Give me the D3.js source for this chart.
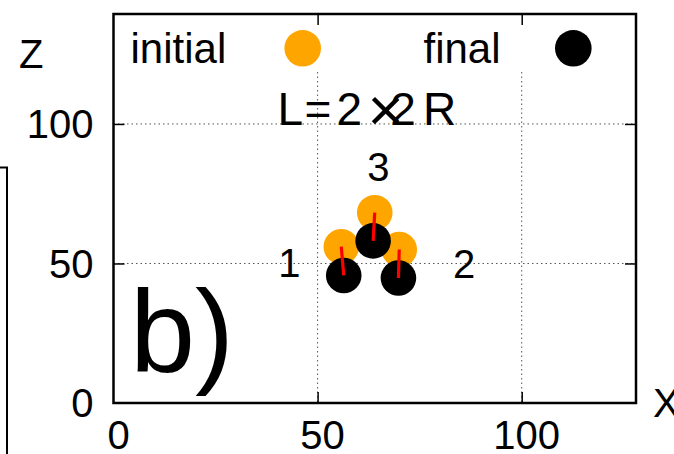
<!DOCTYPE html>
<html>
<head>
<meta charset="utf-8">
<script src="https://cdn.jsdelivr.net/npm/d3@7"></script>
<style>
  body { margin: 0; background: #fff; }
  svg { display: block; font-family: "Liberation Sans", Arial, sans-serif; }
  .grid line { stroke: #555; stroke-width: 1; stroke-dasharray: 1.5,3; }
</style>
</head>
<body>
<svg id="chart" width="674" height="454"></svg>
<script>
// particle positions (x, z), particles 1, 2, 3
var particles = ["1", "2", "3"];
var initialX = [55.8, 70.0, 64.0];
var initialZ = [56.0, 55.0, 68.2];
var finalX = [56.4, 69.8, 63.6];
var finalZ = [45.7, 44.8, 58.1];
// where the particle numbers sit
var labelX = [43.1, 85.9, 64.9];
var labelZ = [50.2, 50.0, 84.7];

var xTicks = [0, 50, 100];
var zTicks = [0, 50, 100];
var gridX = [50, 100];
var gridZ = [50, 100];

var svg = d3.select("#chart");
// plot box (note: "top" is taken by window.top, so use other names)
var boxL = 113.5, boxR = 636, boxT = 14, boxB = 403;

var x = d3.scaleLinear().domain([0, 128]).range([boxL, boxR]);
var z = d3.scaleLinear().domain([0, 139.4]).range([boxB, boxT]);

// piece of the neighbouring panel on the left
svg.append("path")
    .attr("d", "M0,167.5 H7 V454")
    .attr("fill", "none")
    .attr("stroke", "#000")
    .attr("stroke-width", 2);

// grid
var grid = svg.append("g").attr("class", "grid");
grid.selectAll(".gx").data(gridX).enter().append("line")
    .attr("x1", function(d) { return x(d); })
    .attr("x2", function(d) { return x(d); })
    .attr("y1", 72)
    .attr("y2", boxB);
grid.selectAll(".gz").data(gridZ).enter().append("line")
    .attr("x1", boxL)
    .attr("x2", boxR)
    .attr("y1", function(d) { return z(d); })
    .attr("y2", function(d) { return z(d); });

// inner ticks on all four sides
var xAxisB = d3.axisTop(x).tickValues([50, 100]).tickSize(11).tickFormat("");
var xAxisT = d3.axisBottom(x).tickValues([50, 100]).tickSize(11).tickFormat("");
var zAxisL = d3.axisRight(z).tickValues([50, 100]).tickSize(11).tickFormat("");
var zAxisR = d3.axisLeft(z).tickValues([50, 100]).tickSize(11).tickFormat("");
[[xAxisB, "translate(0," + boxB + ")"], [xAxisT, "translate(0," + boxT + ")"],
 [zAxisL, "translate(" + boxL + ",0)"], [zAxisR, "translate(" + boxR + ",0)"]].forEach(function(a) {
    var g = svg.append("g").attr("transform", a[1]).call(a[0]);
    g.select(".domain").remove();
    g.selectAll("line").attr("stroke", "#000").attr("stroke-width", 1.5);
});

// tick labels
svg.selectAll(".xlab").data(xTicks).enter().append("text")
    .attr("x", function(d) { return x(d) + 5; })
    .attr("y", 449)
    .attr("text-anchor", "middle")
    .attr("font-size", 40)
    .text(function(d) { return d; });
svg.selectAll(".zlab").data(zTicks).enter().append("text")
    .attr("x", 93.5)
    .attr("y", function(d) { return z(d) + 14.3; })
    .attr("text-anchor", "end")
    .attr("font-size", 40)
    .text(function(d) { return d; });

// axis titles
svg.append("text").attr("x", 19).attr("y", 68.3).attr("font-size", 40).text("Z");
svg.append("text").attr("x", 653).attr("y", 417).attr("font-size", 40).text("X");

// legend
svg.append("text").attr("x", 130.5).attr("y", 63.3).attr("font-size", 42).text("initial");
svg.append("circle").attr("cx", 302.7).attr("cy", 48.3).attr("r", 18.3).attr("fill", "#ffa500");
svg.append("text").attr("x", 423.5).attr("y", 63.3).attr("font-size", 42).text("final");
svg.append("circle").attr("cx", 573.3).attr("cy", 48.3).attr("r", 18.3).attr("fill", "#000");

// title L=2x2R (the times sign is drawn big, overlapping the second 2)
var title = svg.append("text").attr("y", 125).attr("font-size", 46);
title.append("tspan").attr("x", 277.5).text("L");
title.append("tspan").attr("x", 304.5).text("=");
title.append("tspan").attr("x", 336.5).text("2");
title.append("tspan").attr("x", 367.5).attr("dy", 6).attr("font-size", 62).text("\u00d7");
title.append("tspan").attr("x", 390.3).attr("dy", -6).text("2");
title.append("tspan").attr("x", 423).text("R");

// big panel label
svg.append("text").attr("x", 130).attr("y", 372).attr("font-size", 117).text("b)");

// particles
var idx = d3.range(particles.length);
svg.selectAll(".ini").data(idx).enter().append("circle")
    .attr("cx", function(i) { return x(initialX[i]); })
    .attr("cy", function(i) { return z(initialZ[i]); })
    .attr("r", 17.8)
    .attr("fill", "#ffa500");
svg.selectAll(".fin").data(idx).enter().append("circle")
    .attr("cx", function(i) { return x(finalX[i]); })
    .attr("cy", function(i) { return z(finalZ[i]); })
    .attr("r", 17.8)
    .attr("fill", "#000");
svg.selectAll(".traj").data(idx).enter().append("line")
    .attr("x1", function(i) { return x(initialX[i]); })
    .attr("y1", function(i) { return z(initialZ[i]); })
    .attr("x2", function(i) { return x(finalX[i]); })
    .attr("y2", function(i) { return z(finalZ[i]); })
    .attr("stroke", "#ff0000")
    .attr("stroke-width", 3.2);

svg.selectAll(".plab").data(idx).enter().append("text")
    .attr("x", function(i) { return x(labelX[i]); })
    .attr("y", function(i) { return z(labelZ[i]) + 14.3; })
    .attr("text-anchor", "middle")
    .attr("font-size", 40)
    .text(function(i) { return particles[i]; });

// frame
svg.append("rect")
    .attr("x", boxL).attr("y", boxT)
    .attr("width", boxR - boxL).attr("height", boxB - boxT)
    .attr("fill", "none")
    .attr("stroke", "#000")
    .attr("stroke-width", 2.5);
</script>
</body>
</html>
